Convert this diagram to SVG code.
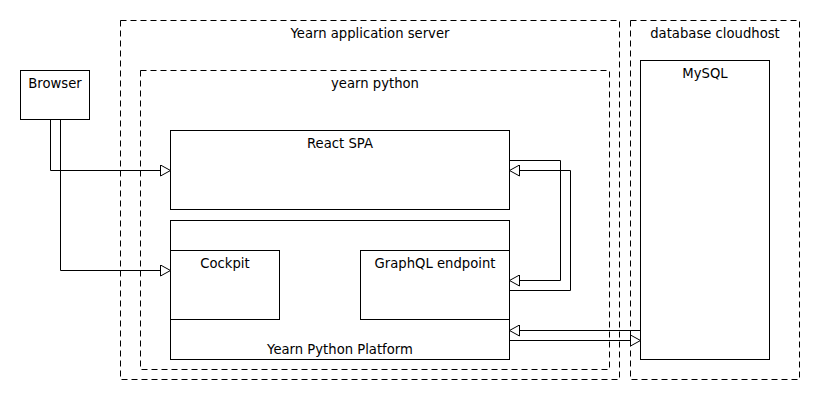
<svg xmlns="http://www.w3.org/2000/svg" width="820" height="400" viewBox="0 0 820 400">
<style>
.bg{fill:#ffffff}
.box{fill:#ffffff;stroke:#000000;stroke-width:1}
.grp{fill:none;stroke:#000000;stroke-width:1;stroke-dasharray:6 4}
.lbl{font-family:"DejaVu Sans","Noto Sans",sans-serif;font-size:13.2px;fill:#000000;text-anchor:middle}
.edge{fill:none;stroke:#000000;stroke-width:1}
</style>
<defs>
<marker id="tri" viewBox="0 0 12 12" refX="11" refY="6" markerWidth="12" markerHeight="12" markerUnits="userSpaceOnUse" orient="auto">
<path d="M1,0.5 L11,6 L1,11.5 Z" fill="#ffffff" stroke="#000000" stroke-width="1"/>
</marker>
</defs>
<rect class="bg" x="0" y="0" width="820" height="400"/>
<g id="app-server">
<rect class="grp" x="120.5" y="20.5" width="499" height="359"/>
<text class="lbl" x="370" y="38">Yearn application server</text>
</g>
<g id="yearn-python">
<rect class="grp" x="140.5" y="70.5" width="469" height="299"/>
<text class="lbl" x="375" y="88">yearn python</text>
</g>
<g id="db-cloudhost">
<rect class="grp" x="630.5" y="20.5" width="169" height="359"/>
<text class="lbl" x="715" y="38">database cloudhost</text>
</g>
<g id="browser">
<rect class="box" x="20.5" y="70.5" width="69" height="49"/>
<text class="lbl" x="55" y="88">Browser</text>
</g>
<g id="react-spa">
<rect class="box" x="170.5" y="130.5" width="339" height="79"/>
<text class="lbl" x="340" y="148">React SPA</text>
</g>
<g id="platform">
<rect class="box" x="170.5" y="220.5" width="339" height="139"/>
<text class="lbl" x="340" y="354">Yearn Python Platform</text>
</g>
<g id="cockpit">
<rect class="box" x="170.5" y="250.5" width="109" height="69"/>
<text class="lbl" x="225" y="268">Cockpit</text>
</g>
<g id="graphql">
<rect class="box" x="360.5" y="250.5" width="149" height="69"/>
<text class="lbl" x="435" y="268">GraphQL endpoint</text>
</g>
<g id="mysql">
<rect class="box" x="640.5" y="60.5" width="129" height="299"/>
<text class="lbl" x="705" y="78">MySQL</text>
</g>
<g id="connectors">
<path class="edge" d="M50.5,119.5 V170.5 H170.5" marker-end="url(#tri)"/>
<path class="edge" d="M60.5,119.5 V270.5 H170.5" marker-end="url(#tri)"/>
<path class="edge" d="M509.5,160.5 H560.5 V280.5 H509.5" marker-end="url(#tri)"/>
<path class="edge" d="M509.5,290.5 H570.5 V170.5 H509.5" marker-end="url(#tri)"/>
<path class="edge" d="M640.5,330.5 H509.5" marker-end="url(#tri)"/>
<path class="edge" d="M509.5,340.5 H640.5" marker-end="url(#tri)"/>
</g>
</svg>
